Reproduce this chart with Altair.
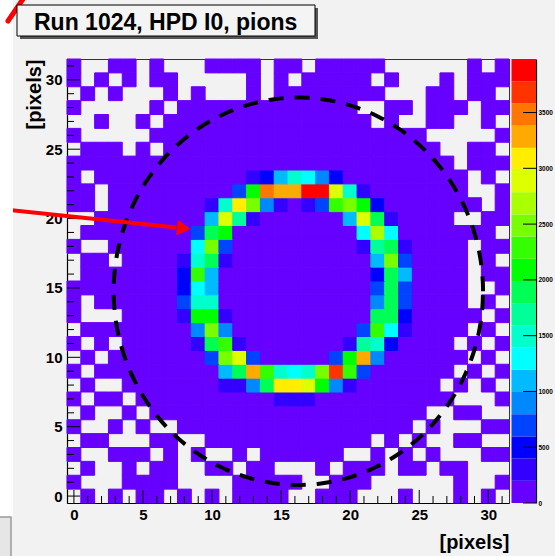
import altair as alt
import pandas as pd
import numpy as np

# ---------------- data ----------------
ZMAX = 3980.0          # top of the colour scale
NLEV = 20              # number of colour bands
BG_VALUE = 90          # counts in the sparsely hit bins (first colour band)
PALETTE = ["#6600ff", "#3300ff", "#0000ff", "#0044ff", "#0088ff", "#00bbff",
           "#00ffff", "#00ffcc", "#00ff99", "#00ff55", "#00ff00", "#33ff00",
           "#77ff00", "#aaff00", "#ddff00", "#ffee00", "#ffaa00", "#ff7700",
           "#ff3300", "#ff0000"]

# empty (white) bins: row y -> list of x
EMPTY = {
    31: [1, 2, 5, 7, 8, 9, 14, 17, 23, 24, 25, 26, 27, 28, 30],
    30: [1, 3, 5, 8, 9, 10, 11, 12, 14, 16, 22, 24, 25, 26, 28],
    29: [0, 2, 4, 5, 6, 8, 10, 11, 12, 14, 23, 24, 25, 28, 31],
    28: [1, 2, 3, 4, 5, 7, 21, 22, 25, 29],
    27: [0, 1, 3, 4, 6, 22, 24, 25, 28, 29, 31],
    26: [1, 2, 3, 4, 5, 26, 27, 28, 29, 30],
    25: [0, 4, 6, 27, 28, 31],
    24: [28],
    23: [1, 29, 31],
    22: [2, 29, 30],
    21: [2, 30],
    20: [0, 1, 28, 29],
    19: [0, 31],
    18: [1, 2, 29],
    17: [0, 3, 29, 31],
    16: [0, 29],
    15: [29, 30],
    14: [1, 29, 31],
    13: [1, 2, 3, 30],
    12: [0, 29, 31],
    11: [1, 3, 28, 30],
    10: [0, 2, 29, 31],
    9: [1, 28, 30],
    8: [0, 2, 3, 27, 29, 31],
    7: [1, 4, 28, 29, 30],
    6: [0, 2, 3, 5, 26, 27, 30, 31],
    5: [1, 2, 4, 6, 7, 25, 27, 28, 29],
    4: [0, 3, 4, 5, 8, 9, 22, 24, 26, 27, 30, 31],
    3: [1, 2, 6, 8, 10, 11, 13, 20, 21, 23, 25, 27, 28, 29],
    2: [0, 2, 3, 5, 8, 9, 12, 15, 16, 17, 19, 23, 26, 29, 30, 31],
    1: [1, 2, 3, 8, 9, 10, 11, 17, 18, 22, 23, 24, 25, 26, 27, 29, 30],
    0: [0, 2, 4, 7, 9, 11, 16, 17, 21, 22, 23, 25, 26, 27, 29, 31],
}

# ring bins: row y -> {x: colour band}
RING = {
    23: {13: 1, 14: 2, 15: 5, 16: 7, 17: 6, 18: 4, 19: 2},
    22: {12: 3, 13: 10, 14: 17, 15: 16, 16: 16, 17: 19, 18: 19, 19: 14, 20: 7, 21: 1},
    21: {10: 1, 11: 7, 12: 15, 13: 12, 14: 4, 15: 1, 17: 1, 18: 3, 19: 11, 20: 12, 21: 10, 22: 2},
    20: {10: 5, 11: 14, 12: 8, 13: 1, 20: 5, 21: 14, 22: 9, 23: 1},
    19: {9: 3, 10: 9, 11: 10, 21: 6, 22: 13, 23: 6},
    18: {9: 6, 10: 12, 11: 3, 21: 1, 22: 8, 23: 9, 24: 1},
    17: {8: 1, 9: 7, 10: 9, 11: 1, 22: 5, 23: 12, 24: 3},
    16: {8: 2, 9: 11, 10: 5, 22: 2, 23: 9, 24: 5},
    15: {8: 2, 9: 6, 10: 5, 22: 3, 23: 9, 24: 3},
    14: {8: 3, 9: 7, 10: 7, 22: 4, 23: 9, 24: 3},
    13: {8: 1, 9: 10, 10: 10, 11: 1, 22: 9, 23: 9, 24: 2},
    12: {9: 4, 10: 12, 11: 4, 21: 3, 22: 11, 23: 6, 24: 1},
    11: {9: 1, 10: 9, 11: 11, 12: 1, 20: 1, 21: 8, 22: 7, 23: 2},
    10: {10: 3, 11: 12, 12: 14, 13: 3, 19: 3, 20: 10, 21: 16, 22: 4},
    9: {11: 5, 12: 9, 13: 16, 14: 11, 15: 7, 16: 6, 17: 7, 18: 12, 19: 18, 20: 11, 21: 3},
    8: {11: 1, 12: 1, 13: 4, 14: 9, 15: 15, 16: 15, 17: 14, 18: 10, 19: 4, 20: 1},
    7: {15: 1, 16: 1, 17: 1},
}

MAJOR_TICKS = [0, 5, 10, 15, 20, 25, 30]
MINOR_TICKS = [v for v in range(0, 32) if v % 5 != 0]
CBAR_TICKS = [0, 500, 1000, 1500, 2000, 2500, 3000, 3500]

ELLIPSE_C = (16.25, 14.76)      # centre of the dashed circle (bins)
ELLIPSE_R = (13.37, 13.96)      # radii (bins)
ARROW_TAIL = (-5.45, 20.70)
ARROW_BASE = (7.40, 19.35)
ARROW_HEAD = (7.95, 19.30)
TITLE = "Run 1024, HPD I0, pions"
AXIS_TITLE = "[pixels]"

# ---------------- build tables ----------------
rows = []
for y in range(32):
    for x in range(32):
        if x in EMPTY.get(y, []):
            continue
        lev = RING.get(y, {}).get(x)
        val = BG_VALUE if lev is None else (lev + 0.5) * ZMAX / NLEV
        rows.append({"x0": x - 0.5, "x1": x + 0.5, "y0": y - 0.5, "y1": y + 0.5, "value": val})
cells = pd.DataFrame(rows)

t = np.linspace(0, 2 * np.pi, 361)
ell = pd.DataFrame({"ex": ELLIPSE_C[0] + ELLIPSE_R[0] * np.cos(t),
                    "ey": ELLIPSE_C[1] + ELLIPSE_R[1] * np.sin(t),
                    "o": np.arange(len(t))})

W, H = 442, 444
FONT = "Liberation Sans"
xs = alt.Scale(domain=[-0.5, 31.5], nice=False, zero=False)
ys = alt.Scale(domain=[-0.5, 31.5], nice=False, zero=False)
cscale = alt.Scale(type="quantize", domain=[0, ZMAX], range=PALETTE, nice=False, zero=False)

x_axis = alt.Axis(values=MAJOR_TICKS, format="d", ticks=False, tickSize=0, grid=False,
                  domainColor="black", domainWidth=1.2, labelFont=FONT, labelFontWeight="bold",
                  labelFontSize=15, labelColor="black", labelPadding=4, labelFlush=False,
                  labelOverlap=False, title=AXIS_TITLE, titleFont=FONT, titleFontWeight="bold",
                  titleFontSize=20, titleColor="black", titleX=W, titleY=45, titleAlign="right",
                  titleBaseline="alphabetic")
y_axis = alt.Axis(values=MAJOR_TICKS, format="d", ticks=False, tickSize=0, grid=False,
                  domainColor="black", domainWidth=1.2, labelFont=FONT, labelFontWeight="bold",
                  labelFontSize=15, labelColor="black", labelPadding=5, labelFlush=False,
                  labelOverlap=False, title=AXIS_TITLE, titleFont=FONT, titleFontWeight="bold",
                  titleFontSize=20, titleColor="black", titleX=-27, titleY=0, titleAngle=270,
                  titleAlign="right", titleBaseline="alphabetic")

X = lambda f: alt.X(f, type="quantitative", scale=xs, axis=x_axis)
Y = lambda f: alt.Y(f, type="quantitative", scale=ys, axis=y_axis)

heat = alt.Chart(cells).mark_rect(strokeWidth=1).encode(
    x=X("x0"), x2="x1", y=Y("y0"), y2="y1",
    color=alt.Color("value:Q", scale=cscale, legend=None),
    stroke=alt.Stroke("value:Q", scale=cscale, legend=None))

maj = pd.DataFrame({"v": MAJOR_TICKS})
mnr = pd.DataFrame({"v": MINOR_TICKS})
tick_layers = [
    alt.Chart(maj).mark_rule(color="black", strokeWidth=1).encode(x=X("v"), y=alt.value(H), y2=alt.value(H - 13)),
    alt.Chart(mnr).mark_rule(color="black", strokeWidth=1).encode(x=X("v"), y=alt.value(H), y2=alt.value(H - 7)),
    alt.Chart(maj).mark_rule(color="black", strokeWidth=1).encode(y=Y("v"), x=alt.value(0), x2=alt.value(13)),
    alt.Chart(mnr).mark_rule(color="black", strokeWidth=1).encode(y=Y("v"), x=alt.value(0), x2=alt.value(7)),
]

ellipse = alt.Chart(ell).mark_line(color="black", strokeWidth=4, strokeDash=[15, 11]).encode(
    x=X("ex"), y=Y("ey"), order="o:Q")

arrow_df = pd.DataFrame([{"xa": ARROW_TAIL[0], "ya": ARROW_TAIL[1], "xb": ARROW_BASE[0], "yb": ARROW_BASE[1],
                          "xh": ARROW_HEAD[0], "yh": ARROW_HEAD[1]}])
arrow_line = alt.Chart(arrow_df).mark_rule(color="#ff0000", strokeWidth=4).encode(
    x=X("xa"), y=Y("ya"), x2="xb", y2="yb")
arrow_head = alt.Chart(arrow_df).mark_point(shape="triangle-right", filled=True, color="#ff0000",
                                            opacity=1, size=250, angle=6).encode(x=X("xh"), y=Y("yh"))

main = alt.layer(heat, *tick_layers, ellipse, arrow_line, arrow_head)

# colour bar
cb = pd.DataFrame({"lo": [k * ZMAX / NLEV for k in range(NLEV)],
                   "hi": [(k + 1) * ZMAX / NLEV for k in range(NLEV)],
                   "col": PALETTE, "a": 0, "b": 1})
cby = alt.Scale(domain=[0, ZMAX], nice=False, zero=False)
cbx = alt.Scale(domain=[0, 1], range=[444.5, 469])
cb_axis = alt.Axis(orient="right", offset=27, values=CBAR_TICKS, format="d", ticks=False, tickSize=0,
                   grid=False, domainColor="black", domainWidth=1.2, labelFont=FONT,
                   labelFontWeight="bold", labelFontSize=6.5, labelColor="black", labelPadding=2,
                   labelFlush=False, labelOverlap=False, title=None)
cbar = alt.Chart(cb).mark_rect().encode(
    x=alt.X("a:Q", scale=cbx, axis=None), x2="b",
    y=alt.Y("lo:Q", scale=cby, axis=cb_axis), y2="hi",
    color=alt.Color("col:N", scale=None))
cbt = alt.Chart(pd.DataFrame({"v": CBAR_TICKS})).mark_rule(color="black", strokeWidth=1).encode(
    y=alt.Y("v:Q", scale=cby, axis=cb_axis), x=alt.value(456), x2=alt.value(469))
colorbar = alt.layer(cbar, cbt)

# decorations: title box, margins
one = pd.DataFrame({"k": [0]})
deco = [
    alt.Chart(one).mark_rect(color="white").encode(x=alt.value(-67), x2=alt.value(-54), y=alt.value(-59), y2=alt.value(458)),
    alt.Chart(one).mark_rect(color="#e6e6e6", stroke="#9a9a9a", strokeWidth=1.5).encode(
        x=alt.value(-70), x2=alt.value(-56), y=alt.value(458), y2=alt.value(500)),
    alt.Chart(one).mark_rule(color="#ff0000", strokeWidth=5, strokeCap="round").encode(
        x=alt.value(-59), y=alt.value(-38), x2=alt.value(-44), y2=alt.value(-60)),
    alt.Chart(one).mark_rect(color="#555555").encode(x=alt.value(-47), x2=alt.value(251), y=alt.value(-51), y2=alt.value(-20)),
    alt.Chart(one).mark_rect(color="#f4f4f4", stroke="black", strokeWidth=1).encode(
        x=alt.value(-50), x2=alt.value(248), y=alt.value(-54), y2=alt.value(-23)),
    alt.Chart(one).mark_text(text=TITLE, font=FONT, fontWeight="bold", fontSize=23, color="black",
                             align="left", baseline="alphabetic").encode(x=alt.value(-33), y=alt.value(-29)),
]

chart = alt.layer(main, colorbar, *deco).resolve_scale(
    x="independent", y="independent", color="independent", stroke="independent"
).properties(
    width=W, height=H, background="#f2f2f2",
    autosize=alt.AutoSizeParams(type="none"),
    padding={"left": 67, "top": 59, "right": 46, "bottom": 53},
).configure_view(stroke="#333333", strokeWidth=1, fill=None)

chart.save("out.html", embed_options={"renderer": "svg", "actions": False})
